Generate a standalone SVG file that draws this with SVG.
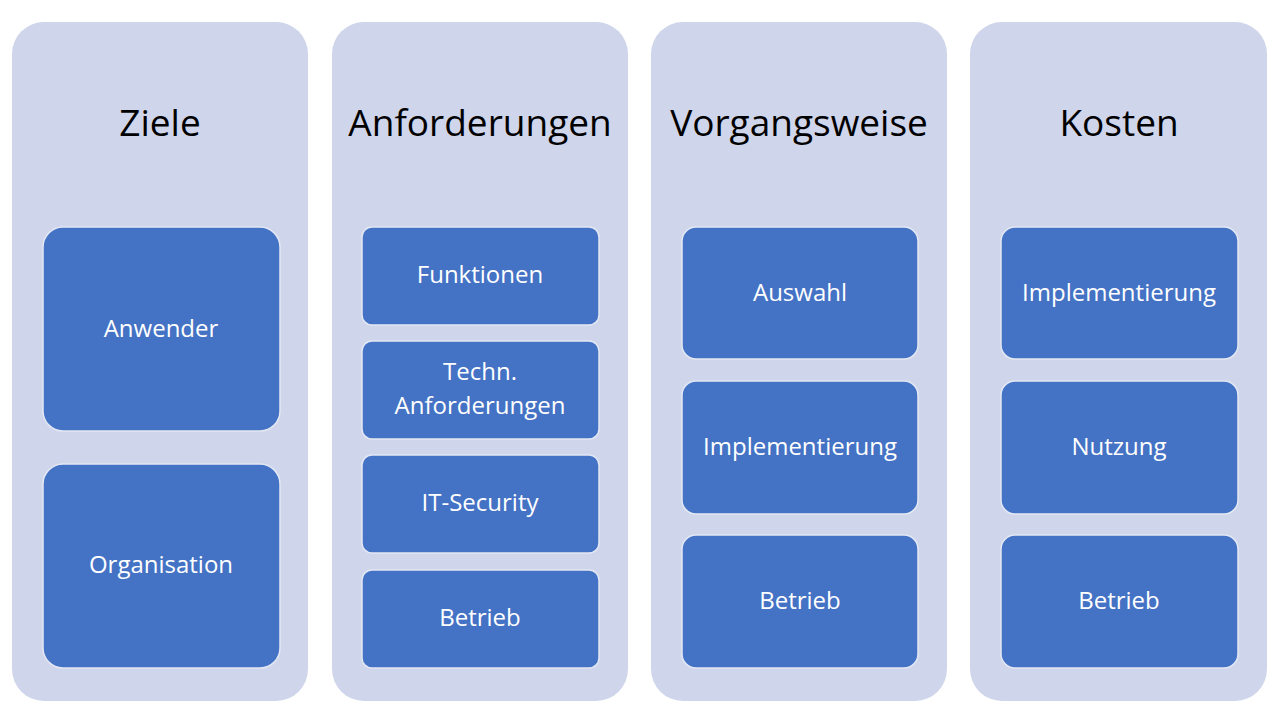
<svg xmlns="http://www.w3.org/2000/svg" width="1280" height="720" viewBox="0 0 1280 720">
<style>
.col{fill:#CFD5EA}
.box{fill:#4472C4;stroke:#E3E8F4;stroke-width:1.5}
.t{font-family:"Open Sans","Liberation Sans",sans-serif;font-size:37px;fill:#000;text-anchor:middle}
.l{font-family:"Open Sans","Liberation Sans",sans-serif;font-size:24px;fill:#fff;text-anchor:middle}
</style>
<rect width="1280" height="720" fill="#fff"/>
<g id="col-ziele">
<rect class="col" x="12" y="22" width="296" height="679" rx="32"/>
<text class="t" x="160" y="136">Ziele</text>
</g>
<g id="col-anf">
<rect class="col" x="332" y="22" width="296" height="679" rx="32"/>
<text class="t" x="480" y="136">Anforderungen</text>
</g>
<g id="col-vor">
<rect class="col" x="651" y="22" width="296" height="679" rx="32"/>
<text class="t" x="799" y="136">Vorgangsweise</text>
</g>
<g id="col-kos">
<rect class="col" x="970" y="22" width="297" height="679" rx="32"/>
<text class="t" x="1119" y="136">Kosten</text>
</g>
<g id="n-anwender"><rect class="box" x="43" y="227" width="237" height="204" rx="20"/><text class="l" x="161" y="337">Anwender</text></g>
<g id="n-organisation"><rect class="box" x="43" y="464" width="237" height="204" rx="20"/><text class="l" x="161" y="573">Organisation</text></g>
<g id="n-funktionen"><rect class="box" x="362" y="227" width="237" height="98" rx="10"/><text class="l" x="480" y="283">Funktionen</text></g>
<g id="n-techn"><rect class="box" x="362" y="341" width="237" height="98" rx="10"/><text class="l" x="480" y="380">Techn.</text><text class="l" x="480" y="414">Anforderungen</text></g>
<g id="n-itsec"><rect class="box" x="362" y="455" width="237" height="98" rx="10"/><text class="l" x="480" y="511">IT-Security</text></g>
<g id="n-betrieb1"><rect class="box" x="362" y="570" width="237" height="98" rx="10"/><text class="l" x="480" y="626">Betrieb</text></g>
<g id="n-auswahl"><rect class="box" x="682" y="227" width="236" height="132" rx="14"/><text class="l" x="800" y="301">Auswahl</text></g>
<g id="n-impl1"><rect class="box" x="682" y="381" width="236" height="133" rx="14"/><text class="l" x="800" y="455">Implementierung</text></g>
<g id="n-betrieb2"><rect class="box" x="682" y="535" width="236" height="133" rx="14"/><text class="l" x="800" y="609">Betrieb</text></g>
<g id="n-impl2"><rect class="box" x="1001" y="227" width="237" height="132" rx="14"/><text class="l" x="1119" y="301">Implementierung</text></g>
<g id="n-nutzung"><rect class="box" x="1001" y="381" width="237" height="133" rx="14"/><text class="l" x="1119" y="455">Nutzung</text></g>
<g id="n-betrieb3"><rect class="box" x="1001" y="535" width="237" height="133" rx="14"/><text class="l" x="1119" y="609">Betrieb</text></g>
<g id="connectors"/>
</svg>
